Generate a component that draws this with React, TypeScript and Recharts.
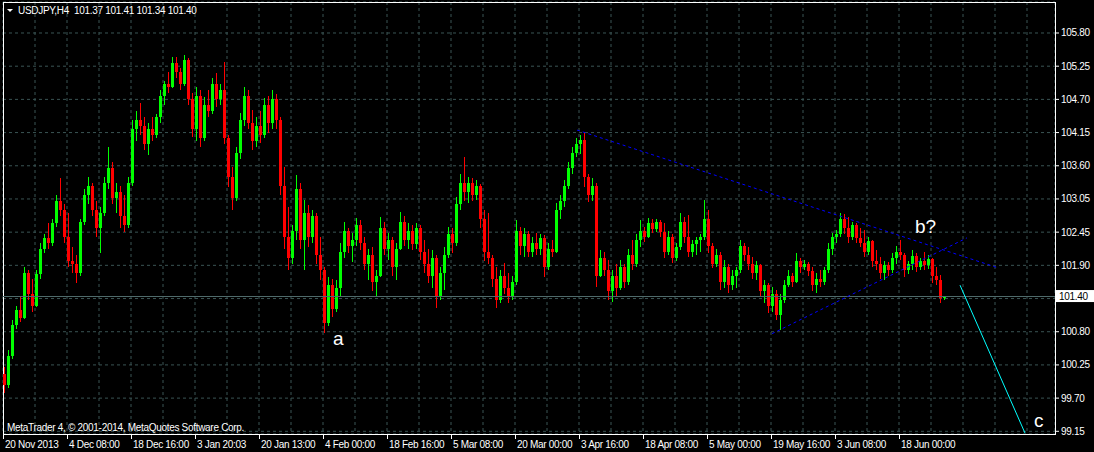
import {
  ComposedChart, Bar, XAxis, YAxis, CartesianGrid,
  ReferenceLine, ReferenceArea, ReferenceDot,
} from 'recharts';

// USDJPY H4 candles (one slot = 4px)
const OPEN = [
  100.10, 99.92, 100.40, 100.92, 101.18, 101.05, 101.80, 101.45, 101.25, 101.78,
  102.20, 102.38, 102.30, 102.62, 103.00, 102.85, 102.40, 102.00, 101.95, 101.80,
  102.65, 103.10, 103.25, 102.85, 102.55, 102.80, 103.30, 103.55, 103.05, 103.15,
  102.75, 102.60, 103.30, 104.20, 104.35, 104.25, 103.95, 104.20, 104.10, 104.40,
  104.75, 104.95, 104.90, 105.30, 105.15, 104.95, 105.35, 104.70, 104.20, 104.75,
  104.05, 104.60, 104.50, 104.95, 104.70, 104.85, 104.05, 103.40, 103.05, 103.80,
  104.35, 104.75, 104.30, 104.00, 104.25, 104.10, 104.60, 104.30, 104.70, 104.35,
  103.25, 102.40, 102.05, 102.50, 103.20, 102.35, 102.80, 102.40, 102.75, 102.10,
  101.85, 100.95, 101.60, 101.20, 101.55, 102.15, 102.50, 102.25, 102.35, 102.60,
  102.30, 101.95, 102.10, 101.65, 101.75, 102.55, 102.20, 102.35, 101.90, 102.20,
  102.65, 102.35, 102.50, 102.28, 102.55, 102.15, 101.95, 101.75, 102.05, 101.40,
  101.80, 102.10, 102.45, 102.30, 102.95, 103.30, 103.15, 103.30, 103.10, 103.25,
  102.70, 102.15, 102.05, 101.70, 101.35, 101.75, 101.55, 101.40, 101.65, 102.50,
  102.25, 102.45, 102.15, 102.30, 102.20, 102.38, 101.90, 102.20, 102.15, 102.85,
  103.00, 103.25, 103.55, 103.80, 103.95, 104.02, 103.40, 103.10, 103.25, 101.75,
  102.05, 101.85, 101.50, 101.75, 101.55, 101.90, 101.65, 102.10, 101.95, 102.35,
  102.50, 102.40, 102.62, 102.52, 102.65, 102.48, 102.15, 102.40, 102.05, 102.22,
  102.65, 102.40, 102.15, 102.28, 102.35, 102.40, 102.70, 102.25, 101.95, 102.10,
  101.65, 101.90, 101.60, 101.75, 101.85, 102.25, 102.10, 101.95, 101.80, 101.92,
  101.50, 101.60, 101.25, 101.45, 101.10, 101.35, 101.60, 101.75, 101.65, 102.00,
  101.90, 101.95, 101.82, 101.60, 101.70, 101.65, 101.85, 102.20, 102.40, 102.45,
  102.70, 102.55, 102.40, 102.60, 102.38, 102.30, 102.15, 102.32, 102.00, 101.95,
  101.80, 101.92, 101.85, 102.05, 102.15, 102.10, 101.85, 101.95, 102.08, 101.90,
  102.00, 101.92, 102.02, 101.75, 101.68, 101.37,
];
const HIGH = [
  100.23, 100.51, 101.00, 101.25, 101.40, 101.89, 101.85, 101.70, 101.84, 102.29,
  102.45, 102.63, 102.70, 103.10, 103.38, 102.95, 102.80, 102.23, 102.10, 102.70,
  103.20, 103.40, 103.30, 103.00, 102.90, 103.40, 103.90, 103.65, 103.30, 103.25,
  103.10, 103.40, 104.35, 104.50, 104.63, 104.40, 104.30, 104.40, 104.45, 104.85,
  105.00, 105.15, 105.40, 105.40, 105.22, 105.43, 105.38, 104.80, 104.90, 104.85,
  104.73, 104.85, 105.05, 105.13, 104.95, 105.32, 104.10, 103.56, 103.90, 104.46,
  104.90, 104.85, 104.51, 104.40, 104.50, 104.71, 104.75, 104.85, 104.78, 104.40,
  103.56, 102.90, 102.60, 103.43, 103.30, 103.01, 102.93, 102.85, 102.80, 102.39,
  101.90, 101.73, 101.70, 101.68, 102.29, 102.65, 102.55, 102.46, 102.71, 102.68,
  102.39, 102.20, 102.23, 101.85, 102.73, 102.65, 102.46, 102.40, 102.30, 102.81,
  102.75, 102.63, 102.60, 102.63, 102.60, 102.34, 102.20, 102.18, 102.10, 101.90,
  102.23, 102.56, 102.55, 103.06, 103.45, 103.73, 103.40, 103.38, 103.35, 103.28,
  102.85, 102.80, 102.10, 101.89, 101.85, 101.96, 101.79, 101.75, 102.68, 102.56,
  102.55, 102.50, 102.40, 102.46, 102.45, 102.43, 102.30, 102.34, 102.96, 103.10,
  103.35, 103.65, 103.90, 104.05, 104.10, 104.13, 103.45, 103.38, 103.30, 102.18,
  102.15, 102.01, 101.85, 101.95, 102.01, 101.95, 102.20, 102.34, 102.45, 102.68,
  102.56, 102.71, 102.70, 102.70, 102.68, 102.63, 102.50, 102.45, 102.30, 102.80,
  102.72, 102.76, 102.35, 102.39, 102.45, 103.01, 102.85, 102.30, 102.20, 102.15,
  102.01, 101.95, 101.84, 101.90, 102.34, 102.30, 102.23, 102.06, 102.00, 101.95,
  101.68, 101.62, 101.56, 101.51, 101.45, 101.68, 101.84, 101.80, 102.13, 102.05,
  102.01, 101.98, 101.89, 101.80, 101.84, 101.90, 102.30, 102.46, 102.51, 102.80,
  102.78, 102.73, 102.65, 102.63, 102.55, 102.51, 102.40, 102.35, 102.18, 102.06,
  102.00, 101.98, 102.13, 102.25, 102.34, 102.12, 102.00, 102.18, 102.12, 102.05,
  102.15, 102.10, 102.05, 101.89, 101.76, 101.41,
];
const LOW = [
  99.79, 99.88, 100.35, 100.85, 100.98, 101.02, 101.35, 101.14, 101.23, 101.70,
  102.13, 102.20, 102.25, 102.56, 102.75, 102.30, 101.90, 101.79, 101.63, 101.75,
  102.60, 102.95, 102.75, 102.40, 102.13, 102.75, 103.20, 102.95, 102.80, 102.55,
  102.48, 102.55, 103.25, 104.00, 104.10, 103.85, 103.76, 104.00, 104.05, 104.30,
  104.60, 104.80, 104.88, 105.05, 104.85, 104.92, 104.60, 104.06, 104.00, 103.90,
  104.00, 104.40, 104.45, 104.57, 104.60, 103.95, 103.23, 102.85, 103.00, 103.70,
  104.25, 104.20, 103.85, 103.90, 103.96, 104.05, 104.13, 104.20, 104.20, 103.10,
  102.20, 101.84, 101.95, 102.34, 102.20, 101.84, 102.23, 102.30, 101.95, 101.68,
  100.79, 100.90, 101.06, 101.15, 101.39, 102.05, 102.13, 101.98, 102.25, 102.18,
  101.85, 101.68, 101.50, 101.39, 101.73, 102.10, 102.01, 101.75, 101.68, 102.18,
  102.25, 102.20, 102.18, 102.20, 102.01, 101.80, 101.63, 101.55, 101.21, 101.35,
  101.51, 102.05, 102.13, 102.25, 102.85, 103.00, 102.96, 103.00, 103.02, 102.55,
  102.00, 101.95, 101.56, 101.21, 101.30, 101.45, 101.29, 101.35, 101.60, 102.10,
  102.06, 102.06, 102.06, 102.10, 102.10, 101.73, 101.85, 102.06, 102.12, 102.70,
  102.90, 103.20, 103.45, 103.73, 103.78, 103.23, 102.98, 103.00, 101.56, 101.73,
  101.75, 101.35, 101.31, 101.40, 101.51, 101.55, 101.60, 101.84, 101.90, 102.23,
  102.31, 102.38, 102.46, 102.48, 102.40, 102.05, 102.10, 101.96, 102.00, 102.18,
  102.30, 102.06, 102.06, 102.10, 102.15, 102.35, 102.13, 101.88, 101.90, 101.51,
  101.55, 101.46, 101.51, 101.55, 101.80, 102.00, 101.84, 101.70, 101.68, 101.40,
  101.29, 101.13, 101.15, 101.00, 100.84, 101.30, 101.56, 101.56, 101.62, 101.80,
  101.84, 101.75, 101.50, 101.46, 101.56, 101.60, 101.80, 102.10, 102.29, 102.39,
  102.45, 102.29, 102.35, 102.30, 102.23, 102.06, 102.10, 101.90, 101.84, 101.70,
  101.68, 101.75, 101.79, 101.95, 102.01, 101.73, 101.78, 101.85, 101.81, 101.85,
  101.84, 101.86, 101.63, 101.60, 101.29, 101.34,
];
const CLOSE = [
  99.92, 100.40, 100.92, 101.18, 101.05, 101.80, 101.45, 101.25, 101.78, 102.20,
  102.38, 102.30, 102.62, 103.00, 102.85, 102.40, 102.00, 101.95, 101.80, 102.65,
  103.10, 103.25, 102.85, 102.55, 102.80, 103.30, 103.55, 103.05, 103.15, 102.75,
  102.60, 103.30, 104.20, 104.35, 104.25, 103.95, 104.20, 104.10, 104.40, 104.75,
  104.95, 104.90, 105.30, 105.15, 104.95, 105.35, 104.70, 104.20, 104.75, 104.05,
  104.60, 104.50, 104.95, 104.70, 104.85, 104.05, 103.40, 103.05, 103.80, 104.35,
  104.75, 104.30, 104.00, 104.25, 104.10, 104.60, 104.30, 104.70, 104.35, 103.25,
  102.40, 102.05, 102.50, 103.20, 102.35, 102.80, 102.40, 102.75, 102.10, 101.85,
  100.95, 101.60, 101.20, 101.55, 102.15, 102.50, 102.25, 102.35, 102.60, 102.30,
  101.95, 102.10, 101.65, 101.75, 102.55, 102.20, 102.35, 101.90, 102.20, 102.65,
  102.35, 102.50, 102.28, 102.55, 102.15, 101.95, 101.75, 102.05, 101.40, 101.80,
  102.10, 102.45, 102.30, 102.95, 103.30, 103.15, 103.30, 103.10, 103.25, 102.70,
  102.15, 102.05, 101.70, 101.35, 101.75, 101.55, 101.40, 101.65, 102.50, 102.25,
  102.45, 102.15, 102.30, 102.20, 102.38, 101.90, 102.20, 102.15, 102.85, 103.00,
  103.25, 103.55, 103.80, 103.95, 104.02, 103.40, 103.10, 103.25, 101.75, 102.05,
  101.85, 101.50, 101.75, 101.55, 101.90, 101.65, 102.10, 101.95, 102.35, 102.50,
  102.40, 102.62, 102.52, 102.65, 102.48, 102.15, 102.40, 102.05, 102.22, 102.65,
  102.40, 102.15, 102.28, 102.35, 102.40, 102.70, 102.25, 101.95, 102.10, 101.65,
  101.90, 101.60, 101.75, 101.85, 102.25, 102.10, 101.95, 101.80, 101.92, 101.50,
  101.60, 101.25, 101.45, 101.10, 101.35, 101.60, 101.75, 101.65, 102.00, 101.90,
  101.95, 101.82, 101.60, 101.70, 101.65, 101.85, 102.20, 102.40, 102.45, 102.70,
  102.55, 102.40, 102.60, 102.38, 102.30, 102.15, 102.32, 102.00, 101.95, 101.80,
  101.92, 101.85, 102.05, 102.15, 102.10, 101.85, 101.95, 102.08, 101.90, 102.00,
  101.92, 102.02, 101.75, 101.68, 101.38, 101.40,
];

const DATE_LABELS = [
  '20 Nov 2013', '4 Dec 08:00', '18 Dec 16:00', '3 Jan 20:03', '20 Jan 13:00',
  '4 Feb 00:00', '18 Feb 16:00', '5 Mar 08:00', '20 Mar 00:00', '3 Apr 16:00',
  '18 Apr 08:00', '5 May 00:00', '19 May 16:00', '3 Jun 08:00', '18 Jun 00:00',
];
const PRICE_LABELS = [
  '99.15', '99.70', '100.25', '100.80', '101.35', '101.90', '102.45',
  '103.05', '103.60', '104.15', '104.70', '105.25', '105.80',
];
const QUOTE = ['101.37', '101.41', '101.34', '101.40'];
const LAST_PRICE = 101.40;

// trend lines and wave marks: [slot, price]
const UPPER_LINE = [{ x: 143.5, y: 104.18 }, { x: 248.75, y: 101.88 }];
const LOWER_LINE = [{ x: 192.25, y: 100.78 }, { x: 241, y: 102.38 }];
const WAVE_C_LINE = [{ x: 239.25, y: 101.59 }, { x: 255.5, y: 99.12 }];
const WAVE_MARKS = [
  { x: 82.5, y: 100.59, text: 'a' },
  { x: 228, y: 102.46, text: 'b?' },
  { x: 257.75, y: 99.22, text: 'c' },
];

const Y_MIN = 99.105;
const Y_MAX = 106.3175;
const SLOTS = 263;
const X_TICKS = Array.from({ length: 33 }, (_, k) => k * 8);
const Y_TICKS = PRICE_LABELS.map((_, k) => 99.15 + (k * (105.8 - 99.15)) / 12);

const FONT = '"Liberation Sans", Arial, sans-serif';
const UP = '#00ff00';
const DOWN = '#ff0000';
const GRID = '#3a5454';

const data = OPEN.map((o, i) => ({
  x: i + 0.5,
  range: [LOW[i], HIGH[i]],
  o, h: HIGH[i], l: LOW[i], c: CLOSE[i],
}));

function Candle(props: any) {
  const { x, y, height, payload } = props;
  const { o, h, l, c } = payload;
  const color = c >= o ? UP : DOWN;
  const k = height / (h - l || 1);
  const top = y + (h - Math.max(o, c)) * k;
  const bh = Math.max(1, Math.abs(o - c) * k);
  const left = Math.round(x);
  return (
    <g shapeRendering="crispEdges">
      <rect x={left + 1} y={y} width={1} height={Math.max(1, height)} fill={color} />
      <rect x={left} y={top} width={3} height={bh} fill={color} />
    </g>
  );
}

function DateTick(props: any) {
  const { x, y, payload } = props;
  const v = payload.value;
  const label = v % 16 === 0 ? DATE_LABELS[v / 16] : undefined;
  if (!label) return <g />;
  return (
    <g>
      <line x1={x + 0.5} x2={x + 0.5} y1={y} y2={y + 5} stroke="#fff" />
      <text x={x + 2} y={y + 14} fill="#fff" fontSize={10} fontFamily={FONT} letterSpacing={-0.3}>
        {label}
      </text>
    </g>
  );
}

function PriceTick(props: any) {
  const { x, y, index } = props;
  if (index === 4) return <g />; // hidden under the last-price box
  return (
    <text x={x} y={y + 3.5} fill="#fff" fontSize={10} fontFamily={FONT} letterSpacing={-0.3}>
      {PRICE_LABELS[index]}
    </text>
  );
}

function LastPriceLabel(props: any) {
  const vb = props.viewBox;
  const xr = vb.x + vb.width;
  return (
    <g>
      <rect x={xr + 1} y={vb.y - 6.5} width={38} height={12} fill="#fff" />
      <text x={xr + 4} y={vb.y + 3.5} fill="#000" fontSize={10} fontFamily={FONT} letterSpacing={-0.3}>
        {LAST_PRICE.toFixed(2)}
      </text>
    </g>
  );
}

export default function App() {
  return (
    <div style={{ position: 'absolute', left: 0, top: 0, width: 1094, height: 452, background: '#000' }}>
      <ComposedChart width={1094} height={452} data={data} margin={{ top: 2, right: 0, bottom: 0, left: 3 }}>
        <CartesianGrid stroke={GRID} strokeDasharray="3 3" />
        <XAxis
          type="number"
          dataKey="x"
          domain={[0, SLOTS]}
          allowDataOverflow
          ticks={X_TICKS}
          interval={0}
          height={18}
          axisLine={false}
          tickLine={false}
          tickSize={0}
          tickMargin={0}
          tick={<DateTick />}
        />
        <YAxis
          type="number"
          orientation="right"
          domain={[Y_MIN, Y_MAX]}
          allowDataOverflow
          ticks={Y_TICKS}
          interval={0}
          width={39}
          axisLine={false}
          tickLine={{ stroke: '#fff' }}
          tickSize={4}
          tickMargin={2}
          tick={<PriceTick />}
        />
        <ReferenceArea x1={0} x2={SLOTS} y1={Y_MIN} y2={Y_MAX} fill="none" stroke="#fff" shapeRendering="crispEdges" />
        <ReferenceLine y={LAST_PRICE} stroke="#4f6a6a" shapeRendering="crispEdges" label={LastPriceLabel} />
        <Bar dataKey="range" barSize={4} shape={Candle} isAnimationActive={false} />
        <ReferenceLine segment={UPPER_LINE} stroke="#0000ff" strokeDasharray="3 3" />
        <ReferenceLine segment={LOWER_LINE} stroke="#0000ff" strokeDasharray="3 3" />
        <ReferenceLine segment={WAVE_C_LINE} stroke="#00ffff" />
        {WAVE_MARKS.map((m) => (
          <ReferenceDot
            key={m.text}
            x={m.x}
            y={m.y}
            r={0}
            shape={(p: any) => (
              <text x={p.cx} y={p.cy} fill="#fff" fontSize={19} fontFamily={FONT}>
                {m.text}
              </text>
            )}
          />
        ))}
      </ComposedChart>
      <svg width={1094} height={452} style={{ position: 'absolute', left: 0, top: 0, pointerEvents: 'none' }}>
        <polygon points="7,9 13,9 10,12" fill="#fff" />
        <text x={18} y={14} fill="#fff" fontSize={10} fontFamily={FONT} letterSpacing={-0.3} xmlSpace="preserve">
          {`USDJPY,H4  ${QUOTE.join(' ')}`}
        </text>
        <text x={7} y={431} fill="#fff" fontSize={10} fontFamily={FONT} letterSpacing={-0.3}>
          MetaTrader 4, © 2001-2014, MetaQuotes Software Corp.
        </text>
      </svg>
    </div>
  );
}
